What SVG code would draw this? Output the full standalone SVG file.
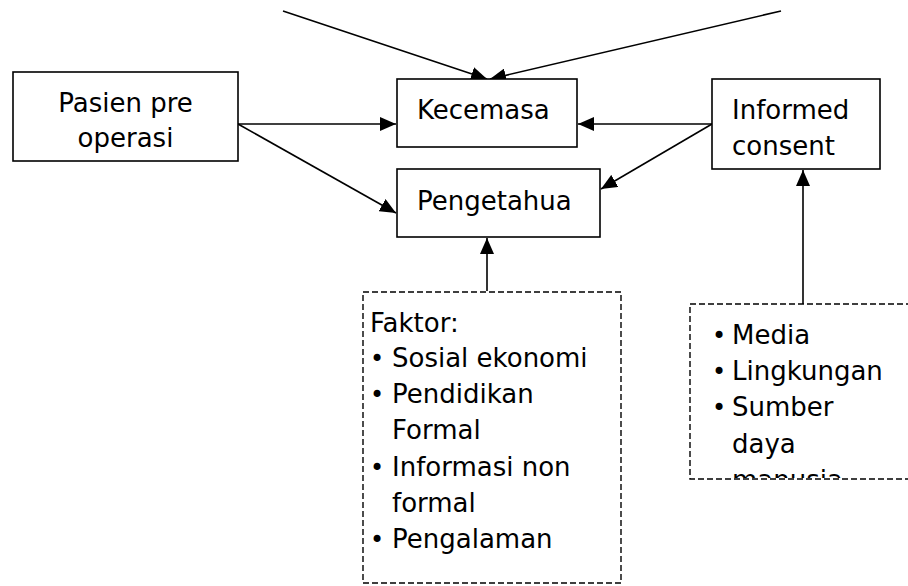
<svg xmlns="http://www.w3.org/2000/svg" width="908" height="586" viewBox="0 0 908 586">
<defs>
<style>
.box{fill:#fff;stroke:#000;stroke-width:1.6}
.dash{fill:#fff;stroke:#000;stroke-width:1.4;stroke-dasharray:6 3}
.t{font-family:"DejaVu Sans","Verdana",sans-serif;font-size:26px;fill:#000}
.b{font-family:"DejaVu Sans","Verdana",sans-serif;font-size:24px;fill:#000}
.c{stroke:#000;stroke-width:1.6;fill:none}
</style>
<marker id="ah" markerUnits="userSpaceOnUse" viewBox="0 0 16 14" refX="16" refY="7" markerWidth="16" markerHeight="14" orient="auto">
<path d="M0,0 L16,7 L0,14 z" fill="#000"/>
</marker>
<clipPath id="clipB"><rect x="690" y="304" width="218" height="174"/></clipPath>
</defs>
<rect width="908" height="586" fill="#fff"/>
<g id="connectors">
<line class="c" x1="283" y1="11" x2="487" y2="79" marker-end="url(#ah)"/>
<line class="c" x1="781" y1="11" x2="490" y2="79" marker-end="url(#ah)"/>
<line class="c" x1="238" y1="124" x2="396" y2="124" marker-end="url(#ah)"/>
<line class="c" x1="238" y1="124" x2="396" y2="213" marker-end="url(#ah)"/>
<line class="c" x1="712" y1="124" x2="578" y2="124" marker-end="url(#ah)"/>
<line class="c" x1="712" y1="124" x2="601" y2="189" marker-end="url(#ah)"/>
<line class="c" x1="487" y1="291" x2="487" y2="238" marker-end="url(#ah)"/>
<line class="c" x1="803" y1="304" x2="803" y2="170" marker-end="url(#ah)"/>
</g>
<g id="pasien">
<rect class="box" x="13" y="72" width="225" height="89"/>
<text class="t" x="125.5" y="112" text-anchor="middle">Pasien pre</text>
<text class="t" x="125.5" y="147" text-anchor="middle">operasi</text>
</g>
<g id="kecemasan">
<rect class="box" x="397" y="79" width="180" height="68"/>
<text class="t" x="417" y="119">Kecemasa</text>
</g>
<g id="pengetahuan">
<rect class="box" x="397" y="169" width="203" height="68"/>
<text class="t" x="417" y="210">Pengetahua</text>
</g>
<g id="informed">
<rect class="box" x="712" y="79" width="168" height="90"/>
<text class="t" x="732" y="119">Informed</text>
<text class="t" x="732" y="155">consent</text>
</g>
<g id="faktor">
<rect class="dash" x="363" y="292" width="258" height="291"/>
<text class="t" x="370" y="332">Faktor:</text>
<text class="b" x="370" y="367">•</text>
<text class="t" x="392" y="367">Sosial ekonomi</text>
<text class="b" x="370" y="403">•</text>
<text class="t" x="392" y="403">Pendidikan</text>
<text class="t" x="392" y="439">Formal</text>
<text class="b" x="370" y="476">•</text>
<text class="t" x="392" y="476">Informasi non</text>
<text class="t" x="392" y="512">formal</text>
<text class="b" x="370" y="548">•</text>
<text class="t" x="392" y="548">Pengalaman</text>
</g>
<g id="faktor-informed">
<rect class="dash" x="690" y="304" width="230" height="175"/>
<g clip-path="url(#clipB)">
<text class="b" x="712" y="344">•</text>
<text class="t" x="732" y="344">Media</text>
<text class="b" x="712" y="380">•</text>
<text class="t" x="732" y="380">Lingkungan</text>
<text class="b" x="712" y="416">•</text>
<text class="t" x="732" y="416">Sumber</text>
<text class="t" x="732" y="453">daya</text>
<text class="t" x="732" y="489">manusia</text>
</g>
</g>
</svg>
